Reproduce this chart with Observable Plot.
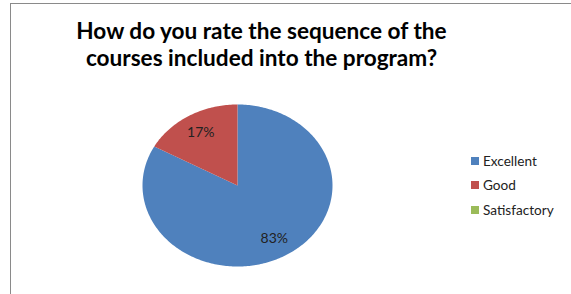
<!DOCTYPE html>
<html>
<head>
<meta charset="utf-8">
<script src="https://cdn.jsdelivr.net/npm/d3@7"></script>
<script src="https://cdn.jsdelivr.net/npm/@observablehq/plot@0.6"></script>
<style>
  body { margin: 0; background: #fff; }
  #wrap { position: relative; width: 571px; height: 294px; overflow: hidden; font-family: Lato, "Open Sans", sans-serif; }
  #frame { position: absolute; left: 10px; top: 3px; width: 600px; height: 320px; border-left: 1px solid #8a8a8a; border-top: 1px solid #8a8a8a; }
  #title { position: absolute; left: 0; top: 18px; width: 523px; text-align: center; font-weight: bold; font-size: 22.6px; line-height: 26.5px; color: #000; }
  #chart { position: absolute; left: 0; top: 0; }
  #legend { position: absolute; left: 471px; top: 148.5px; font-size: 13.6px; color: #222; }
  .item { display: flex; align-items: center; height: 24.5px; }
  .sw { width: 8px; height: 8px; margin-right: 4px; }
</style>
</head>
<body>
<div id="wrap">
  <div id="frame"></div>
  <div id="title">How do you rate the sequence of the<br>courses included into the program?</div>
  <div id="chart"></div>
  <div id="legend"></div>
</div>
<script>
const categories = ["Excellent", "Good", "Satisfactory"];
const values = [83, 17, 0];
const labels = ["83%", "17%", ""];
const colors = ["#4F81BD", "#C0504D", "#9BBB59"];

const arcs = d3.pie().sort(null).value(d => d)(values);
const points = [];
arcs.forEach((a, i) => {
  if (a.endAngle - a.startAngle <= 0) return;
  const cat = categories[i];
  points.push({cat, x: 0, y: 0});
  const n = Math.max(2, Math.ceil((a.endAngle - a.startAngle) / (Math.PI / 180)));
  for (let k = 0; k <= n; k++) {
    const t = a.startAngle + (a.endAngle - a.startAngle) * k / n;
    points.push({cat, x: Math.sin(t), y: -Math.cos(t)});
  }
  points.push({cat, x: 0, y: 0});
});
const labelData = arcs.map((a, i) => {
  const m = (a.startAngle + a.endAngle) / 2;
  return {label: labels[i], x: 0.76 * Math.sin(m), y: -0.76 * Math.cos(m)};
}).filter(d => d.label);

const chart = Plot.plot({
  width: 571, height: 294, margin: 0,
  x: {domain: [-1, 1], range: [142, 332], axis: null},
  y: {domain: [-1, 1], range: [104, 266], axis: null},
  color: {domain: categories, range: colors},
  style: {background: "transparent"},
  marks: [
    Plot.line(points, {x: "x", y: "y", z: "cat", fill: "cat", stroke: null, curve: "linear"}),
    Plot.text(labelData, {x: "x", y: "y", text: "label", fontSize: 14, fill: "#222", fontFamily: "Lato, sans-serif"})
  ]
});
document.getElementById("chart").appendChild(chart);

const leg = document.getElementById("legend");
categories.forEach((c, i) => {
  const it = document.createElement("div");
  it.className = "item";
  it.innerHTML = `<span class="sw" style="background:${colors[i]}"></span><span>${c}</span>`;
  leg.appendChild(it);
});
</script>
</body>
</html>
